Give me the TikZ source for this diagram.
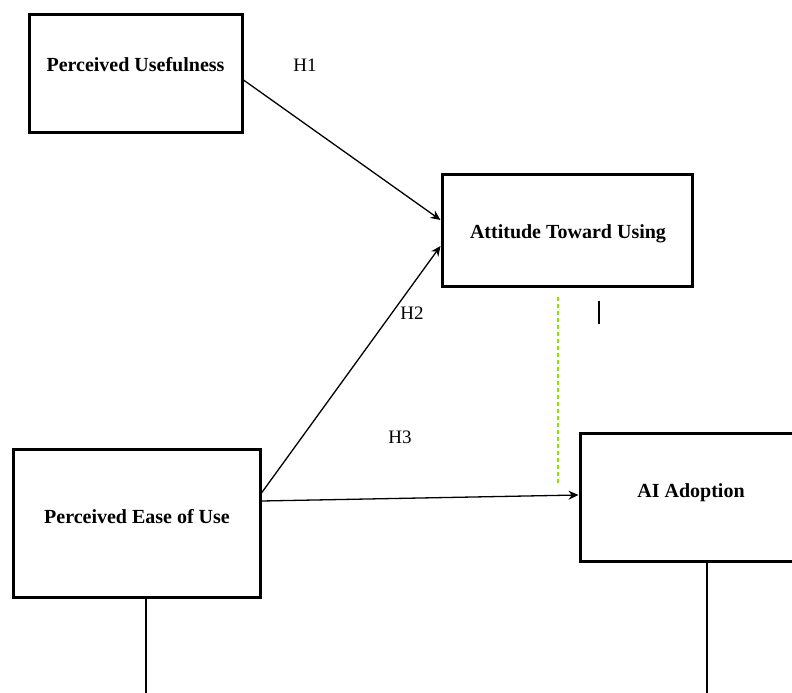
\documentclass[tikz,border=0pt]{standalone}
\usepackage{fontspec}
\setmainfont{Liberation Serif}
\usepackage{tikz}
\usetikzlibrary{calc}
\usetikzlibrary{arrows.meta}
\tikzset{
  factor/.style={draw, line width=3pt, rectangle, inner sep=0pt},
  factortext/.style={font=\bfseries\fontsize{20}{24}\selectfont, inner sep=0pt},
  hyp/.style={font=\fontsize{19}{22}\selectfont, inner sep=0pt},
  path/.style={line width=1.3pt, -{Stealth[length=10pt,width=9pt]}}
}
\newcommand{\factor}[7]{\node[factor, minimum width=#4, minimum height=#5] (#1) at ( #2 , #3 ) {}; \node[factortext] (#1-text) at ($(#1)+(#6)$) {#7};}
\newcommand{\hyplabel}[3]{\node[hyp] (#1) at ( #2 , #3 ) {#1};}

\begin{document}
\begin{tikzpicture}[x=1pt,y=-1pt]
        \useasboundingbox (0,0) rectangle (792,693);
        % constructs
        \factor{pu}{135.5}{73.5}{213pt}{117pt}{0,-8.5}{Perceived Usefulness}
        \factor{atu}{567}{230}{250pt}{112pt}{1,4}{Attitude Toward Using}
        \factor{peou}{136.5}{523}{247pt}{148pt}{0.5,-6}{Perceived Ease of Use}
        \factor{ai}{707}{497}{254pt}{128pt}{-16,-4}{AI Adoption}

        % hypotheses
        \hyplabel{H1}{305}{65}
        \hyplabel{H2}{412}{313}
        \hyplabel{H3}{400}{437}

        % paths
        \draw[path] ($(pu.east)+(0,6.5)$) -- ($(atu.west)+(0,-10)$);
        \draw[path] ($(peou.east)+(0,-30)$) -- ($(atu.west)+(0,16)$);
        \draw[path] ($(peou.east)+(0,-22)$) -- ($(ai.west)+(0,-2)$);

        % loose lines
        \draw[line width=1.3pt, color=green!45!yellow!80!olive, dash pattern=on 4pt off 3pt] ($(atu.south)+(-9,9)$) -- ($(atu.south)+(-9,195)$);
        \draw[line width=1.3pt] ($(atu.south)+(32,13)$) -- ($(atu.south)+(32,36)$);
        \draw[line width=1.3pt] ($(peou.south)+(9.5,0)$) -- (146,693);
        \draw[line width=1.3pt] (ai.south) -- (707,693);
\end{tikzpicture}
\end{document}
